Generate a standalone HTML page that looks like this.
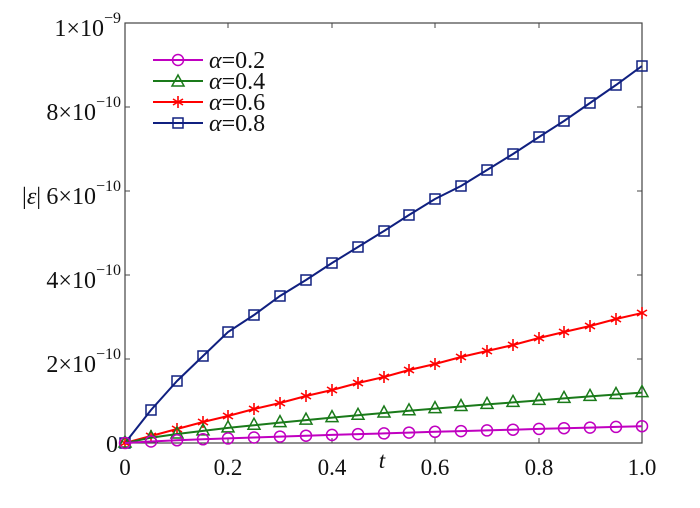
<!DOCTYPE html><html><head><style>body{margin:0;background:#fff}svg text{font-family:"Liberation Serif",serif}</style></head><body>
<svg width="700" height="503" xmlns="http://www.w3.org/2000/svg" xmlns:xlink="http://www.w3.org/1999/xlink">
<defs>
<circle id="mc" cx="0" cy="0" r="5.5" fill="none" stroke="#c000c0" stroke-width="1.5"/>
<path id="mt" d="M0,-7 L6,4 L-6,4Z" fill="none" stroke="#1a7a1a" stroke-width="1.5"/>
<g id="ms" stroke="#f00" stroke-width="1.6"><line x1="0" y1="-6" x2="0" y2="6"/><line x1="-5" y1="-3" x2="5" y2="3"/><line x1="-5" y1="3" x2="5" y2="-3"/></g>
<rect id="mq" x="-5" y="-5" width="10" height="10" fill="none" stroke="#102080" stroke-width="1.5"/>
</defs>
<rect x="125" y="23" width="517" height="420" fill="none" stroke="#444" stroke-width="1.2"/>
<g stroke="#444" stroke-width="1">
<line x1="125" y1="359" x2="130" y2="359"/><line x1="125" y1="275" x2="130" y2="275"/><line x1="125" y1="191" x2="130" y2="191"/><line x1="125" y1="107" x2="130" y2="107"/>
<line x1="642" y1="359" x2="637" y2="359"/><line x1="642" y1="275" x2="637" y2="275"/><line x1="642" y1="191" x2="637" y2="191"/><line x1="642" y1="107" x2="637" y2="107"/>
<line x1="228" y1="443" x2="228" y2="438"/><line x1="332" y1="443" x2="332" y2="438"/><line x1="435" y1="443" x2="435" y2="438"/><line x1="539" y1="443" x2="539" y2="438"/>
<line x1="228" y1="23" x2="228" y2="28"/><line x1="332" y1="23" x2="332" y2="28"/><line x1="435" y1="23" x2="435" y2="28"/><line x1="539" y1="23" x2="539" y2="28"/>
</g>
<g font-size="23" fill="#111" text-anchor="middle">
<text x="125" y="475">0</text><text x="228" y="475">0.2</text><text x="332" y="475">0.4</text><text x="435" y="475">0.6</text><text x="539" y="475">0.8</text><text x="642" y="475">1.0</text>
<text x="382" y="468" font-style="italic">t</text>
</g>
<g font-size="24" fill="#111" text-anchor="end">
<text x="118" y="452">0</text>
<text x="121" y="372">2×10<tspan font-size="16" dy="-13">−10</tspan></text>
<text x="121" y="288">4×10<tspan font-size="16" dy="-13">−10</tspan></text>
<text x="121" y="204">6×10<tspan font-size="16" dy="-13">−10</tspan></text>
<text x="121" y="120">8×10<tspan font-size="16" dy="-13">−10</tspan></text>
<text x="121" y="36">1×10<tspan font-size="16" dy="-13">−9</tspan></text>
</g>
<text x="22" y="204" font-size="24" fill="#111">|<tspan font-style="italic">ε</tspan>|</text>

<polyline fill="none" stroke="#102080" stroke-width="2" points="125,443 151,410 177,381 203,356 228,332 254,315 280,296 306,280 332,263 358,247 384,231 409,215 435,199 461,186 487,170 513,154 539,137 564,121 590,103 616,85 642,66"/>
<g><use xlink:href="#mq" x="125" y="443"/><use xlink:href="#mq" x="151" y="410"/><use xlink:href="#mq" x="177" y="381"/><use xlink:href="#mq" x="203" y="356"/><use xlink:href="#mq" x="228" y="332"/><use xlink:href="#mq" x="254" y="315"/><use xlink:href="#mq" x="280" y="296"/><use xlink:href="#mq" x="306" y="280"/><use xlink:href="#mq" x="332" y="263"/><use xlink:href="#mq" x="358" y="247"/><use xlink:href="#mq" x="384" y="231"/><use xlink:href="#mq" x="409" y="215"/><use xlink:href="#mq" x="435" y="199"/><use xlink:href="#mq" x="461" y="186"/><use xlink:href="#mq" x="487" y="170"/><use xlink:href="#mq" x="513" y="154"/><use xlink:href="#mq" x="539" y="137"/><use xlink:href="#mq" x="564" y="121"/><use xlink:href="#mq" x="590" y="103"/><use xlink:href="#mq" x="616" y="85"/><use xlink:href="#mq" x="642" y="66"/></g>

<polyline fill="none" stroke="#f00" stroke-width="2" points="125,443 151,436 177,429 203,422 228,416 254,409 280,403 306,396 332,390 358,383 384,377 409,370 435,364 461,357 487,351 513,345 539,338 564,332 590,326 616,319 642,313"/>
<g><use xlink:href="#ms" x="125" y="443"/><use xlink:href="#ms" x="151" y="436"/><use xlink:href="#ms" x="177" y="429"/><use xlink:href="#ms" x="203" y="422"/><use xlink:href="#ms" x="228" y="416"/><use xlink:href="#ms" x="254" y="409"/><use xlink:href="#ms" x="280" y="403"/><use xlink:href="#ms" x="306" y="396"/><use xlink:href="#ms" x="332" y="390"/><use xlink:href="#ms" x="358" y="383"/><use xlink:href="#ms" x="384" y="377"/><use xlink:href="#ms" x="409" y="370"/><use xlink:href="#ms" x="435" y="364"/><use xlink:href="#ms" x="461" y="357"/><use xlink:href="#ms" x="487" y="351"/><use xlink:href="#ms" x="513" y="345"/><use xlink:href="#ms" x="539" y="338"/><use xlink:href="#ms" x="564" y="332"/><use xlink:href="#ms" x="590" y="326"/><use xlink:href="#ms" x="616" y="319"/><use xlink:href="#ms" x="642" y="313"/></g>

<polyline fill="none" stroke="#1a7a1a" stroke-width="2" points="125,443 151,437.7 177,434 203,430.9 228,427.9 254,425.2 280,422.6 306,420.1 332,417.6 358,415.3 384,413 409,410.8 435,408.6 461,406.5 487,404.4 513,402.4 539,400.4 564,398.4 590,396.4 616,394.5 642,392.6"/>
<g><use xlink:href="#mt" x="125" y="443"/><use xlink:href="#mt" x="151" y="437.7"/><use xlink:href="#mt" x="177" y="434"/><use xlink:href="#mt" x="203" y="430.9"/><use xlink:href="#mt" x="228" y="427.9"/><use xlink:href="#mt" x="254" y="425.2"/><use xlink:href="#mt" x="280" y="422.6"/><use xlink:href="#mt" x="306" y="420.1"/><use xlink:href="#mt" x="332" y="417.6"/><use xlink:href="#mt" x="358" y="415.3"/><use xlink:href="#mt" x="384" y="413"/><use xlink:href="#mt" x="409" y="410.8"/><use xlink:href="#mt" x="435" y="408.6"/><use xlink:href="#mt" x="461" y="406.5"/><use xlink:href="#mt" x="487" y="404.4"/><use xlink:href="#mt" x="513" y="402.4"/><use xlink:href="#mt" x="539" y="400.4"/><use xlink:href="#mt" x="564" y="398.4"/><use xlink:href="#mt" x="590" y="396.4"/><use xlink:href="#mt" x="616" y="394.5"/><use xlink:href="#mt" x="642" y="392.6"/></g>

<polyline fill="none" stroke="#c000c0" stroke-width="2" points="125,443 151,441.5 177,440.3 203,439.3 228,438.4 254,437.5 280,436.6 306,435.7 332,434.9 358,434.1 384,433.4 409,432.6 435,431.8 461,431.1 487,430.4 513,429.7 539,428.9 564,428.2 590,427.6 616,426.9 642,426.2"/>
<g><use xlink:href="#mc" x="125" y="443"/><use xlink:href="#mc" x="151" y="441.5"/><use xlink:href="#mc" x="177" y="440.3"/><use xlink:href="#mc" x="203" y="439.3"/><use xlink:href="#mc" x="228" y="438.4"/><use xlink:href="#mc" x="254" y="437.5"/><use xlink:href="#mc" x="280" y="436.6"/><use xlink:href="#mc" x="306" y="435.7"/><use xlink:href="#mc" x="332" y="434.9"/><use xlink:href="#mc" x="358" y="434.1"/><use xlink:href="#mc" x="384" y="433.4"/><use xlink:href="#mc" x="409" y="432.6"/><use xlink:href="#mc" x="435" y="431.8"/><use xlink:href="#mc" x="461" y="431.1"/><use xlink:href="#mc" x="487" y="430.4"/><use xlink:href="#mc" x="513" y="429.7"/><use xlink:href="#mc" x="539" y="428.9"/><use xlink:href="#mc" x="564" y="428.2"/><use xlink:href="#mc" x="590" y="427.6"/><use xlink:href="#mc" x="616" y="426.9"/><use xlink:href="#mc" x="642" y="426.2"/></g>

<g font-size="24" fill="#111">
<line x1="153" y1="60" x2="203" y2="60" stroke="#c000c0" stroke-width="2"/><use xlink:href="#mc" x="178" y="60"/><text x="209" y="68"><tspan font-style="italic">α</tspan>=0.2</text>
<line x1="153" y1="81" x2="203" y2="81" stroke="#1a7a1a" stroke-width="2"/><use xlink:href="#mt" x="178" y="82"/><text x="209" y="89"><tspan font-style="italic">α</tspan>=0.4</text>
<line x1="153" y1="102" x2="203" y2="102" stroke="#f00" stroke-width="2"/><use xlink:href="#ms" x="178" y="102"/><text x="209" y="110"><tspan font-style="italic">α</tspan>=0.6</text>
<line x1="153" y1="123" x2="203" y2="123" stroke="#102080" stroke-width="2"/><use xlink:href="#mq" x="178" y="123"/><text x="209" y="131"><tspan font-style="italic">α</tspan>=0.8</text>
</g>
</svg></body></html>
